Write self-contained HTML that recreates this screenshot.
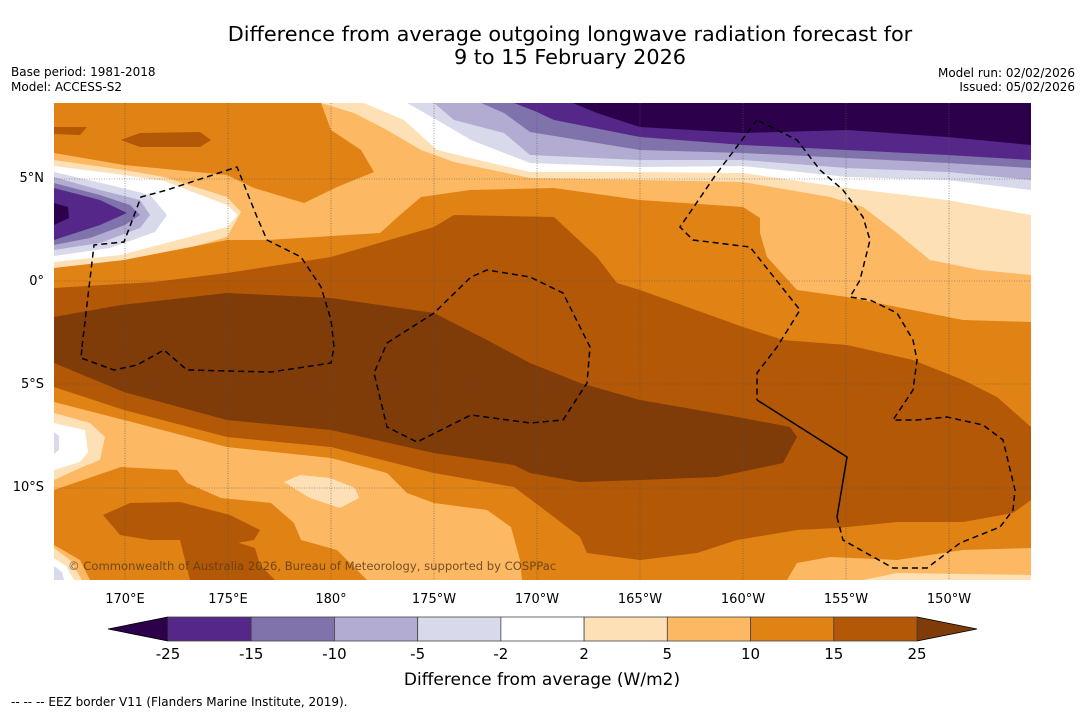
<!DOCTYPE html>
<html><head><meta charset="utf-8">
<style>
html,body{margin:0;padding:0;background:#fff;}
body{width:1085px;height:713px;overflow:hidden;position:relative;font-family:"DejaVu Sans","Liberation Sans",sans-serif;}
</style></head>
<body>
<svg width="1085" height="713" viewBox="0 0 1085 713" xmlns="http://www.w3.org/2000/svg" font-family="DejaVu Sans, Liberation Sans, sans-serif">
<text x="570" y="41" font-size="20.8" text-anchor="middle">Difference from average outgoing longwave radiation forecast for</text>
<text x="570" y="64" font-size="20.8" text-anchor="middle">9 to 15 February 2026</text>
<text x="11" y="76" font-size="12">Base period: 1981-2018</text>
<text x="11" y="91" font-size="12">Model: ACCESS-S2</text>
<text x="1075" y="77" font-size="12" text-anchor="end">Model run: 02/02/2026</text>
<text x="1075" y="91" font-size="12" text-anchor="end">Issued: 05/02/2026</text>

<defs><clipPath id="mapclip"><rect x="54" y="103" width="977" height="477"/></clipPath></defs>
<g clip-path="url(#mapclip)">
<rect x="54" y="103" width="977" height="477" fill="#fdb863"/>
<path fill="#fee0b6" d="M321,103 L354,113 L387,130 L421,150 L454,162 L530,178 L640,180 L743,182 L830,197 L863,207 L897,233 L930,260 L980,270 L1031,275 L1031,103 Z"/>
<path fill="#fee0b6" d="M54,160 L124,170 L164,177 L227,197 L241,212 L227,237 L171,253 L121,267 L54,273 Z"/>
<path fill="#fee0b6" d="M54,413 L90,423 L105,437 L100,460 L80,468 L54,480 Z"/>
<path fill="#fee0b6" d="M284,482 L300,475 L330,478 L355,488 L359,498 L340,508 L310,498 Z"/>
<path fill="#fee0b6" d="M54,548 L70,560 L82,580 L54,580 Z"/>
<path fill="#fee0b6" d="M863,580 L897,573 L1031,575 L1031,580 Z"/>
<path fill="#ffffff" d="M364,103 L404,120 L437,150 L487,162 L530,172 L640,172 L743,173 L847,188 L947,200 L1031,215 L1031,103 Z"/>
<path fill="#ffffff" d="M54,166 L124,175 L164,181 L227,205 L238,215 L227,227 L170,242 L121,255 L54,262 Z"/>
<path fill="#ffffff" d="M54,423 L85,430 L88,452 L80,462 L54,470 Z"/>
<path fill="#ffffff" d="M54,558 L66,566 L74,580 L54,580 Z"/>
<path fill="#d8daeb" d="M407,103 L437,120 L471,140 L530,163 L640,167 L743,166 L847,177 L947,180 L1031,190 L1031,103 Z"/>
<path fill="#d8daeb" d="M54,172 L110,185 L150,195 L167,215 L155,232 L110,248 L54,256 Z"/>
<path fill="#d8daeb" d="M54,432 L59,436 L59,450 L54,454 Z"/>
<path fill="#d8daeb" d="M54,566 L62,572 L64,580 L54,580 Z"/>
<path fill="#b2abd2" d="M434,103 L454,120 L504,133 L530,155 L640,160 L743,160 L847,168 L947,172 L1031,180 L1031,103 Z"/>
<path fill="#b2abd2" d="M54,177 L100,190 L140,200 L150,215 L140,228 L100,243 L54,250 Z"/>
<path fill="#8073ac" d="M481,103 L504,113 L530,132 L640,150 L743,153 L847,158 L947,163 L1031,168 L1031,103 Z"/>
<path fill="#8073ac" d="M54,183 L100,195 L130,205 L140,215 L125,225 L90,238 L54,245 Z"/>
<path fill="#542788" d="M514,103 L537,112 L554,120 L640,137 L743,145 L847,150 L947,155 L1031,160 L1031,103 Z"/>
<path fill="#542788" d="M54,188 L100,200 L127,213 L100,225 L54,240 Z"/>
<path fill="#2d004b" d="M573,103 L597,113 L640,127 L743,133 L847,130 L947,137 L1031,145 L1031,103 Z"/>
<path fill="#2d004b" d="M54,203 L68,207 L69,218 L54,225 Z"/>
<path fill="#e08214" d="M54,103 L321,103 L331,130 L361,150 L374,172 L337,187 L304,203 L254,188 L227,175 L124,165 L54,153 Z"/>
<path fill="#e08214" d="M54,268 L124,260 L227,240 L267,240 L380,233 L400,215 L421,197 L470,190 L554,188 L640,200 L743,207 L760,218 L760,233 L767,257 L797,290 L847,297 L897,307 L963,320 L1031,322 L1031,548 L963,550 L897,560 L830,557 L797,563 L787,580 L522,580 L520,560 L511,527 L487,510 L434,503 L407,493 L387,473 L331,458 L227,447 L124,420 L54,402 Z"/>
<path fill="#e08214" d="M54,490 L121,467 L177,470 L187,483 L221,498 L271,503 L294,523 L301,540 L337,550 L354,567 L367,580 L90,580 L80,560 L54,545 Z"/>
<path fill="#b35806" d="M121,140 L140,133 L200,132 L211,140 L200,147 L140,147 Z"/>
<path fill="#b35806" d="M54,127 L87,127 L80,135 L54,134 Z"/>
<path fill="#b35806" d="M54,288 L154,282 L227,273 L331,257 L434,227 L454,215 L554,217 L597,257 L617,283 L640,290 L743,327 L783,340 L847,345 L913,360 L963,380 L997,397 L1031,427 L1031,500 L1013,513 L963,522 L897,522 L837,528 L797,530 L737,540 L697,553 L640,560 L587,553 L580,537 L554,517 L514,487 L434,473 L331,447 L227,437 L124,410 L54,387 Z"/>
<path fill="#b35806" d="M103,515 L130,503 L180,502 L230,515 L260,530 L254,540 L225,545 L180,540 L150,540 L120,535 Z"/>
<path fill="#b35806" d="M180,540 L230,540 L255,548 L260,565 L275,580 L190,580 Z"/>
<path fill="#7f3b08" d="M54,317 L121,305 L227,293 L331,298 L434,313 L487,340 L530,363 L580,383 L640,400 L743,418 L790,427 L797,437 L783,463 L717,477 L640,480 L580,482 L530,473 L514,465 L434,453 L331,430 L227,420 L124,392 L54,363 Z"/>
<g stroke="#555" stroke-width="0.6" stroke-dasharray="1,1.5" fill="none">
<path d="M125,103V580M228,103V580M331,103V580M434,103V580M537,103V580M640,103V580M743,103V580M846,103V580M949,103V580"/>
<path d="M54,179H1031M54,281H1031M54,384H1031M54,488H1031"/>
</g>
<g stroke="#000" stroke-width="1.5" fill="none" stroke-dasharray="6,4">
<path d="M82,347 L94,245 L124,242 L141,197 L167,190 L237,167 L257,217 L267,240 L301,257 L321,287 L331,320 L334,347 L331,363 L271,372 L187,370 L164,350 L137,365 L114,370 L81,358 Z"/>
<path d="M387,343 L434,313 L471,277 L487,270 L530,277 L563,293 L590,347 L587,383 L563,420 L530,423 L471,415 L417,442 L387,427 L374,373 Z"/>
<path d="M757,120 L717,173 L680,227 L693,240 L750,247 L800,310 L777,347 L757,373 L757,400"/>
<path d="M837,517 L843,540 L893,568 L927,568 L960,543 L1000,527 L1013,510 L1015,490 L1003,440 L983,425 L947,417 L917,420 L893,420 L913,390 L917,360 L913,340 L897,313 L870,300 L850,297 L860,280 L870,240 L863,217 L843,190 L820,170 L797,140 L757,120"/>
</g>
<path d="M757,400 L847,457 L837,517" stroke="#000" stroke-width="1.5" fill="none"/>
<text x="68" y="570" font-size="11.6" fill="#5e3d1c" fill-opacity="0.85">© Commonwealth of Australia 2026, Bureau of Meteorology, supported by COSPPac</text>
</g>
<g id="yticks" font-size="13" text-anchor="end"></g>
<g id="xticks" font-size="13" text-anchor="middle"></g>
<g id="cbar"></g>
<text x="542" y="685" font-size="17" text-anchor="middle">Difference from average (W/m2)</text>
<text x="11" y="706" font-size="12">--  --  -- EEZ border V11 (Flanders Marine Institute, 2019).</text>
</svg>
<script>
const lonLabels=["170°E","175°E","180°","175°W","170°W","165°W","160°W","155°W","150°W"];
const lonValues=[170,175,180,185,190,195,200,205,210];
const latLabels=["5°N","0°","5°S","10°S"];
const latValues=[5,0,-5,-10];
const cbLevels=["-25","-15","-10","-5","-2","2","5","10","15","25"];
const cbColors=["#542788","#8073ac","#b2abd2","#d8daeb","#ffffff","#fee0b6","#fdb863","#e08214","#b35806"];
const cbUnder="#2d004b", cbOver="#7f3b08";
const NS="http://www.w3.org/2000/svg";
function xLon(l){return 331+(l-180)*20.6;}
function yLat(l){return 281-l*20.6;}
function mk(t,a,p){const e=document.createElementNS(NS,t);for(const k in a)e.setAttribute(k,a[k]);p.appendChild(e);return e;}
const xg=document.getElementById('xticks');
lonValues.forEach((v,i)=>{const t=mk('text',{x:xLon(v),y:603},xg);t.textContent=lonLabels[i];

});
const yg=document.getElementById('yticks');
latValues.forEach((v,i)=>{const t=mk('text',{x:44,y:yLat(v)+4},yg);t.textContent=latLabels[i];

});
const cb=document.getElementById('cbar');
const x0=168,x1=917,y0=617,y1=641,w=(x1-x0)/cbColors.length;
const under=mk('polygon',{points:`108,${(y0+y1)/2} ${x0},${y0} ${x0},${y1}`,fill:cbUnder,stroke:"#000","stroke-width":0.8},cb);


const over=mk('polygon',{points:`977,${(y0+y1)/2} ${x1},${y0} ${x1},${y1}`,fill:cbOver,stroke:"#000","stroke-width":0.8},cb);


cbColors.forEach((c,i)=>{const r=mk('rect',{x:x0+i*w,y:y0,width:w,height:y1-y0,fill:c,stroke:"#444","stroke-width":0.8},cb);

});
cbLevels.forEach((l,i)=>{const t=mk('text',{x:x0+i*w,y:659,"font-size":15,"text-anchor":"middle"},cb);t.textContent=l;

});
</script>
</body></html>
